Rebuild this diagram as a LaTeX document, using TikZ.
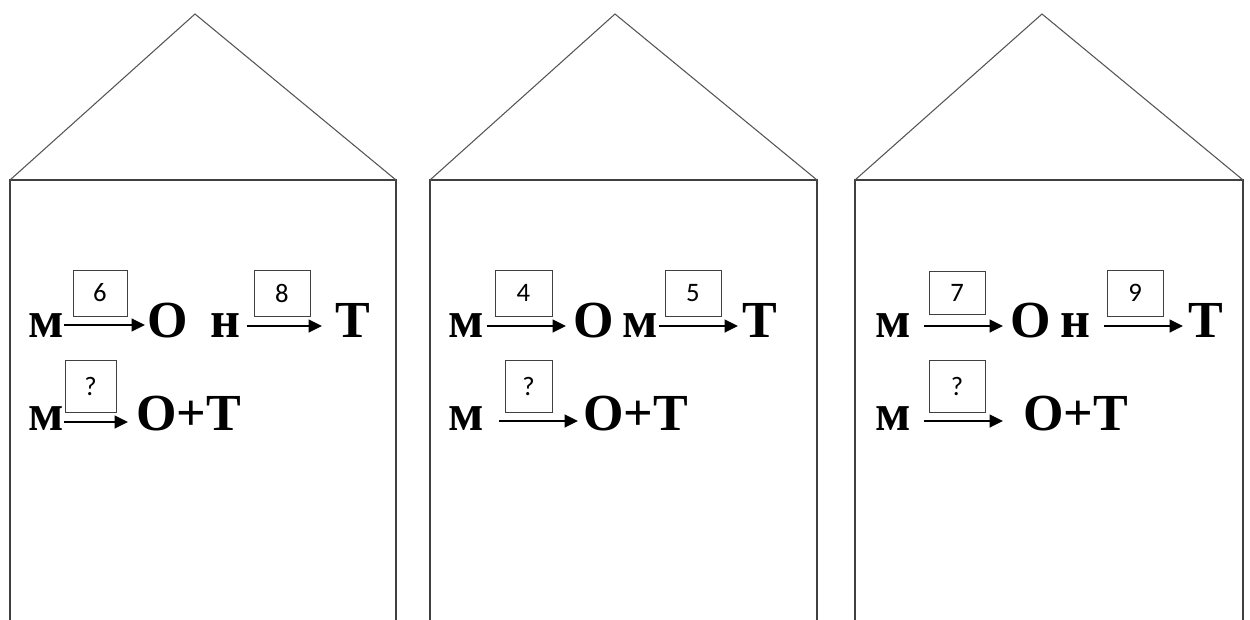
\documentclass[tikz,border=0pt]{standalone}
\usepackage{fontspec}
\setmainfont{Liberation Serif}[BoldFont={Liberation Serif Bold}]
\newfontfamily\tnrbold{Liberation Serif Bold}
\newfontfamily\digitfont{Carlito}
\usetikzlibrary{arrows.meta}
\definecolor{linegray}{HTML}{404040}
\definecolor{roofgray}{HTML}{555555}
\newcommand\dg[1]{\raisebox{-2pt}{#1}}
\tikzset{
  wall/.style={draw=linegray, line width=1.1pt},
  roof/.style={draw=roofgray, line width=0.8pt},
  letter/.style={anchor=base west, inner sep=0pt, font=\tnrbold\fontsize{39}{42}\selectfont},
  numbox/.style={draw=linegray, line width=0.7pt, inner sep=0pt, font=\digitfont\fontsize{20}{22}\selectfont},
  arr/.style={line width=1.7pt, -{Triangle[length=10pt,width=9.5pt]}}
}
\begin{document}
\begin{tikzpicture}[x=0.75pt,y=-0.75pt]
\useasboundingbox (0,0) rectangle (1250,619);
% houses
\foreach \l/\a/\r [count=\i] in {10/195/396, 430/615/817, 855/1042/1243}{
  \draw[wall] (\l,625) -- (\l,180) -- (\r,180) -- (\r,625);
  \draw[roof] (\l,180) -- (\a,14) -- (\r,180);
}
% ---------- house 1
\node[letter] (h1m1) at (28,337) {м};
\node[letter] (h1o1) at (147,337) {О};
\node[letter] (h1n1) at (210,337) {н};
\node[letter] (h1t1) at (335,337) {Т};
\node[letter] (h1m2) at (28,430) {м};
\node[letter] (h1ot) at (136,430) {О+Т};
\node[numbox, minimum width=40.5pt, minimum height=34.5pt] (h1b1) at (100,293) {\dg{6}};
\node[numbox, minimum width=42pt, minimum height=34.5pt] (h1b2) at (282,293) {\dg{8}};
\node[numbox, minimum width=38.25pt, minimum height=39pt] (h1b3) at (90.5,386) {\dg{?}};
\coordinate (h1a1s) at (64,325); \coordinate (h1a1e) at (145,325);
\coordinate (h1a2s) at (247,326); \coordinate (h1a2e) at (322,326);
\coordinate (h1a3s) at (64,422); \coordinate (h1a3e) at (128,422);
\draw[arr] (h1a1s) -- (h1a1e);
\draw[arr] (h1a2s) -- (h1a2e);
\draw[arr] (h1a3s) -- (h1a3e);
% ---------- house 2
\node[letter] (h2m1) at (448,337) {м};
\node[letter] (h2o1) at (573,337) {О};
\node[letter] (h2m3) at (622,337) {м};
\node[letter] (h2t1) at (742,337) {Т};
\node[letter] (h2m2) at (448,430) {м};
\node[letter] (h2ot) at (583,430) {О+Т};
\node[numbox, minimum width=42.75pt, minimum height=34.5pt] (h2b1) at (523.5,293) {\dg{4}};
\node[numbox, minimum width=42pt, minimum height=34.5pt] (h2b2) at (693,293) {\dg{5}};
\node[numbox, minimum width=35.25pt, minimum height=39pt] (h2b3) at (528.5,386) {\dg{?}};
\coordinate (h2a1s) at (487,326); \coordinate (h2a1e) at (566,326);
\coordinate (h2a2s) at (659,326); \coordinate (h2a2e) at (738,326);
\coordinate (h2a3s) at (499,421); \coordinate (h2a3e) at (578,421);
\draw[arr] (h2a1s) -- (h2a1e);
\draw[arr] (h2a2s) -- (h2a2e);
\draw[arr] (h2a3s) -- (h2a3e);
% ---------- house 3
\node[letter] (h3m1) at (875,337) {м};
\node[letter] (h3o1) at (1010,337) {О};
\node[letter] (h3n1) at (1060,337) {н};
\node[letter] (h3t1) at (1188,337) {Т};
\node[letter] (h3m2) at (875,430) {м};
\node[letter] (h3ot) at (1023,430) {О+Т};
\node[numbox, minimum width=42pt, minimum height=32.25pt] (h3b1) at (957,292.5) {\dg{7}};
\node[numbox, minimum width=42pt, minimum height=34.5pt] (h3b2) at (1135,293) {\dg{9}};
\node[numbox, minimum width=42pt, minimum height=39pt] (h3b3) at (957,386) {\dg{?}};
\coordinate (h3a1s) at (924,326); \coordinate (h3a1e) at (1003,326);
\coordinate (h3a2s) at (1104,326); \coordinate (h3a2e) at (1183,326);
\coordinate (h3a3s) at (924,421); \coordinate (h3a3e) at (1003,421);
\draw[arr] (h3a1s) -- (h3a1e);
\draw[arr] (h3a2s) -- (h3a2e);
\draw[arr] (h3a3s) -- (h3a3e);
\end{tikzpicture}
\end{document}
